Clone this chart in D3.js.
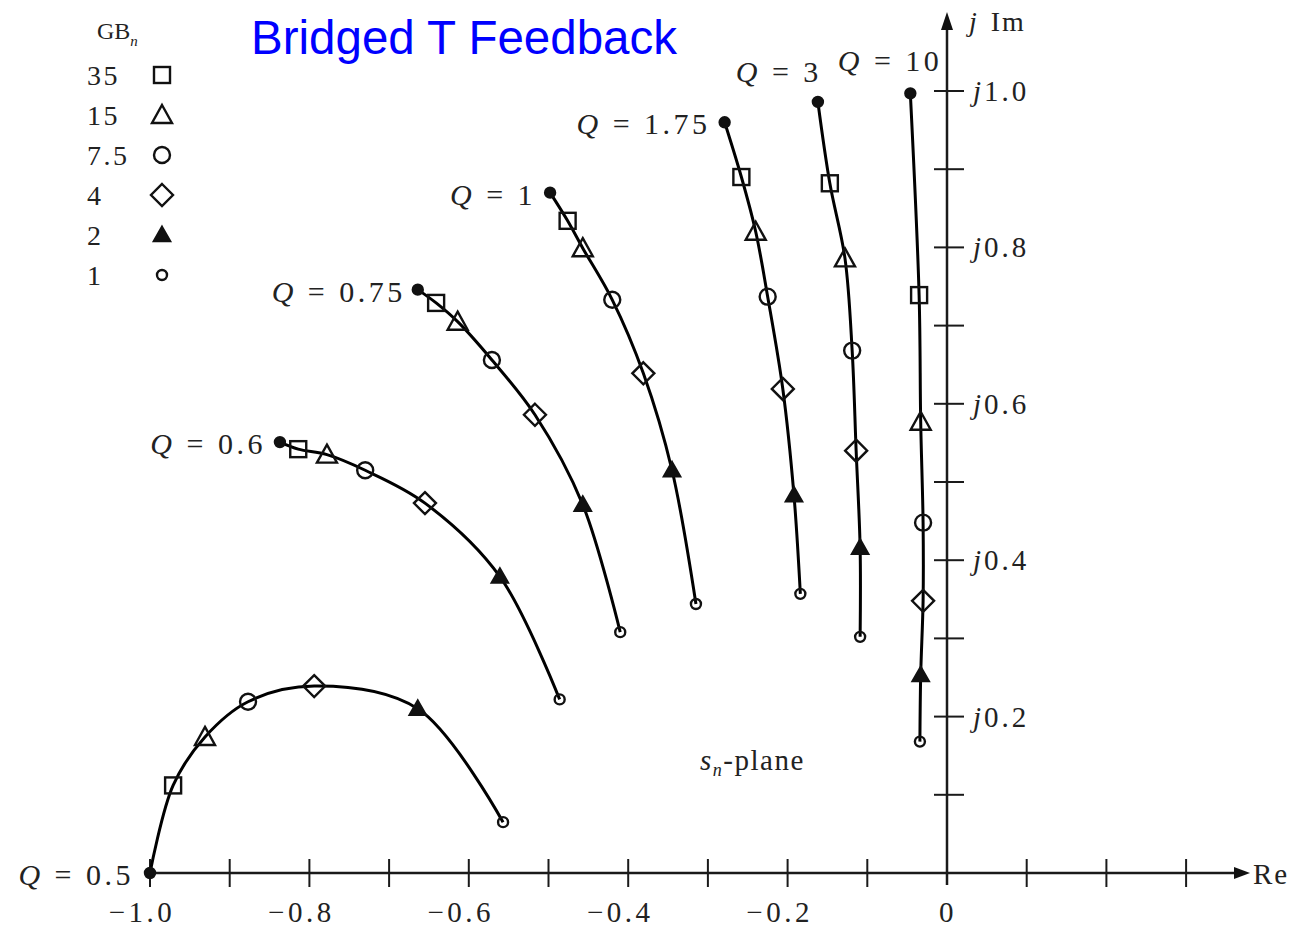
<!DOCTYPE html>
<html>
<head>
<meta charset="utf-8">
<script src="https://cdn.jsdelivr.net/npm/d3@7"></script>
<style>
  body { margin: 0; background: #fff; }
  text.sc { font-family: "Liberation Serif", "DejaVu Serif", serif; fill: #222; }
</style>
</head>
<body>
<script>
// root locus points, [Re, Im]: first is the ideal pole, then GB = 35, 15, 7.5, 4, 2, 1
const qLabels = ["0.5", "0.6", "0.75", "1", "1.75", "3", "10"];
const gbLabels = ["35", "15", "7.5", "4", "2", "1"];
const gbSymbols = ["square", "triangle", "circle", "diamond", "filledTri", "small"];

const locusQ050 = [[-1.0, 0.0], [-0.971, 0.112], [-0.931, 0.174], [-0.877, 0.219], [-0.794, 0.239], [-0.664, 0.210], [-0.557, 0.065]];
const locusQ060 = [[-0.837, 0.551], [-0.814, 0.542], [-0.778, 0.535], [-0.730, 0.515], [-0.655, 0.473], [-0.561, 0.379], [-0.486, 0.222]];
const locusQ075 = [[-0.664, 0.746], [-0.641, 0.729], [-0.614, 0.705], [-0.571, 0.656], [-0.517, 0.586], [-0.457, 0.471], [-0.410, 0.308]];
const locusQ100 = [[-0.498, 0.870], [-0.476, 0.834], [-0.457, 0.799], [-0.420, 0.733], [-0.381, 0.639], [-0.345, 0.515], [-0.315, 0.344]];
const locusQ175 = [[-0.279, 0.960], [-0.258, 0.890], [-0.240, 0.820], [-0.225, 0.737], [-0.206, 0.619], [-0.192, 0.483], [-0.184, 0.357]];
const locusQ300 = [[-0.162, 0.986], [-0.147, 0.882], [-0.128, 0.786], [-0.119, 0.668], [-0.114, 0.540], [-0.109, 0.416], [-0.109, 0.302]];
const locusQ1000 = [[-0.046, 0.997], [-0.035, 0.739], [-0.033, 0.577], [-0.030, 0.448], [-0.030, 0.348], [-0.033, 0.253], [-0.034, 0.168]];

const reTicks = [-1.0, -0.9, -0.8, -0.7, -0.6, -0.5, -0.4, -0.3, -0.2, -0.1, 0, 0.1, 0.2, 0.3];
const reTickLabels = [-1.0, -0.8, -0.6, -0.4, -0.2, 0];
const imTicks = [0.1, 0.2, 0.3, 0.4, 0.5, 0.6, 0.7, 0.8, 0.9, 1.0];
const imTickLabels = [0.2, 0.4, 0.6, 0.8, 1.0];

const loci = [locusQ050, locusQ060, locusQ075, locusQ100, locusQ175, locusQ300, locusQ1000];

const width = 1299, height = 928;

const x = d3.scaleLinear().domain([-1, 0]).range([150, 947]);
const y = d3.scaleLinear().domain([0, 1]).range([873, 91]);

const svg = d3.select("body").append("svg")
    .attr("width", width)
    .attr("height", height);

// axes
const ax = svg.append("g").attr("stroke", "#1a1a1a").attr("stroke-width", 2.5);
ax.append("line")
    .attr("x1", x(-1)).attr("x2", 1238)
    .attr("y1", y(0)).attr("y2", y(0));
ax.append("line")
    .attr("x1", x(0)).attr("x2", x(0))
    .attr("y1", y(0) + 12).attr("y2", 22);

svg.append("path")
    .attr("d", `M1250,${y(0)} L1234,${y(0) - 6} L1234,${y(0) + 6} Z`)
    .attr("fill", "#111");
svg.append("path")
    .attr("d", `M${x(0)},12 L${x(0) - 6},30 L${x(0) + 6},30 Z`)
    .attr("fill", "#111");

ax.selectAll(".xt").data(reTicks.filter(d => d !== 0)).enter().append("line")
    .attr("x1", d => x(d)).attr("x2", d => x(d))
    .attr("y1", y(0) - 14).attr("y2", y(0) + 14)
    .attr("stroke-width", 2);

ax.selectAll(".yt").data(imTicks).enter().append("line")
    .attr("x1", x(0) - 13).attr("x2", x(0) + 17)
    .attr("y1", d => y(d)).attr("y2", d => y(d))
    .attr("stroke-width", 2);

svg.selectAll(".xl").data(reTickLabels).enter().append("text")
    .attr("class", "sc")
    .attr("x", d => x(d) - (d === 0 ? -1 : 8))
    .attr("y", y(0) + 49)
    .attr("text-anchor", "middle")
    .attr("font-size", 29)
    .attr("letter-spacing", 3.5)
    .text(d => d === 0 ? "0" : "\u2212" + Math.abs(d).toFixed(1));

const yl = svg.selectAll(".yl").data(imTickLabels).enter().append("text")
    .attr("class", "sc")
    .attr("x", x(0) + 26)
    .attr("y", d => y(d) + 10)
    .attr("font-size", 29)
    .attr("letter-spacing", 3);
yl.append("tspan").attr("font-style", "italic").text("j");
yl.append("tspan").text(d => d.toFixed(1));

const imLab = svg.append("text").attr("class", "sc").attr("x", x(0) + 22).attr("y", 31).attr("font-size", 28).attr("letter-spacing", 2);
imLab.append("tspan").attr("font-style", "italic").text("j");
imLab.append("tspan").attr("dx", 12).text("Im");

svg.append("text").attr("class", "sc").attr("x", 1253).attr("y", y(0) + 11).attr("font-size", 29).attr("letter-spacing", 2).text("Re");

const sp = svg.append("text").attr("class", "sc").attr("x", 700).attr("y", 770).attr("font-size", 29).attr("letter-spacing", 1.5);
sp.append("tspan").attr("font-style", "italic").text("s");
sp.append("tspan").attr("font-style", "italic").attr("font-size", 18).attr("dy", 6).text("n");
sp.append("tspan").attr("dy", -6).text("-plane");

// loci
const line = d3.line()
    .x(d => x(d[0]))
    .y(d => y(d[1]))
    .curve(d3.curveCatmullRom.alpha(0.5));

svg.selectAll(".locus").data(loci).enter().append("path")
    .attr("d", line)
    .attr("fill", "none")
    .attr("stroke", "#000")
    .attr("stroke-width", 3);

function drawSymbol(g, kind, cx, cy) {
    const s = g.append("g").attr("transform", `translate(${cx},${cy})`)
        .attr("stroke", "#111").attr("stroke-width", 2.4).attr("fill", "none");
    if (kind === "square") s.append("rect").attr("x", -8).attr("y", -8).attr("width", 16).attr("height", 16);
    if (kind === "triangle") s.append("path").attr("d", "M0,-10 L10,8 L-10,8 Z");
    if (kind === "circle") s.append("circle").attr("r", 8);
    if (kind === "diamond") s.append("path").attr("d", "M0,-11 L11,0 L0,11 L-11,0 Z");
    if (kind === "filledTri") s.append("path").attr("d", "M0,-8 L8,6 L-8,6 Z").attr("fill", "#111");
    if (kind === "small") s.append("circle").attr("r", 5);
    if (kind === "dot") s.append("circle").attr("r", 5).attr("fill", "#111");
}

loci.forEach(pts => {
    drawSymbol(svg, "dot", x(pts[0][0]), y(pts[0][1]));
    pts.slice(1).forEach((p, i) => drawSymbol(svg, gbSymbols[i], x(p[0]), y(p[1])));
});

// Q labels, placed off each ideal pole
const qOffsets = [[-16, 12], [-14, 12], [-12, 12], [-14, 12], [-14, 12], [4, -20], [32, -22]];
loci.forEach((pts, i) => {
    const t = svg.append("text")
        .attr("class", "sc")
        .attr("x", x(pts[0][0]) + qOffsets[i][0])
        .attr("y", y(pts[0][1]) + qOffsets[i][1])
        .attr("text-anchor", "end")
        .attr("font-size", 30)
        .attr("letter-spacing", 3.5);
    t.append("tspan").attr("font-style", "italic").text("Q");
    t.append("tspan").text(" = " + qLabels[i]);
});

// legend
const lg = svg.append("text").attr("class", "sc").attr("x", 97).attr("y", 39).attr("font-size", 24);
lg.append("tspan").text("GB");
lg.append("tspan").attr("font-style", "italic").attr("font-size", 15).attr("dy", 7).text("n");

gbLabels.forEach((g, i) => {
    const cy = 75 + i * 40;
    svg.append("text").attr("class", "sc").attr("x", 87).attr("y", cy + 10).attr("font-size", 28).attr("letter-spacing", 2.5).text(g);
    drawSymbol(svg, gbSymbols[i], 162, cy);
});

svg.append("text")
    .attr("x", 251).attr("y", 54)
    .style("font-family", "'Liberation Sans', Arial, sans-serif")
    .style("font-size", "47.5px")
    .style("fill", "#0000ff")
    .text("Bridged T Feedback");
</script>
</body>
</html>
